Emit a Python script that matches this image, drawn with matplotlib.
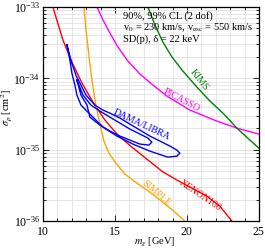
import numpy as np
import matplotlib
matplotlib.use("Agg")
import matplotlib.pyplot as plt
from matplotlib.ticker import LogLocator, MultipleLocator, NullFormatter, LogFormatterMathtext, FixedLocator

plt.rcParams['font.family'] = ['Liberation Serif', 'DejaVu Serif']
plt.rcParams['mathtext.fontset'] = 'stix'

# exclusion limits: mass [GeV], log10(sigma_p / cm^2)
xenon_m = [10.69, 11.39, 12.01, 12.71, 13.47, 14.31, 15.21, 16.18, 17.22, 18.26, 19.31, 20.35,
           21.39, 22.29, 23.125]
xenon_logs = [-33.0, -33.463, -33.771, -34.066, -34.332, -34.585, -34.795, -34.964, -35.132,
              -35.300, -35.426, -35.539, -35.651, -35.791, -36.0]

simple_m = [12.85, 12.99, 13.19, 13.40, 13.68, 13.96, 14.24, 14.58, 15.07, 15.69, 16.53, 17.43,
            18.33, 19.17, 19.86]
simple_logs = [-33.0, -33.323, -33.673, -34.024, -34.374, -34.641, -34.879, -35.048, -35.188,
               -35.342, -35.468, -35.595, -35.735, -35.875, -36.0]

picasso_m = [13.75, 14.17, 14.65, 15.21, 15.90, 16.74, 17.64, 18.61, 20.21, 22.08, 23.47, 25.0]
picasso_logs = [-33.0, -33.182, -33.365, -33.561, -33.757, -33.940, -34.094, -34.248, -34.445,
                -34.599, -34.697, -34.781]

kims_m = [17.29, 17.78, 18.33, 18.96, 19.72, 20.63, 21.60, 22.57, 23.47, 24.375, 25.0]
kims_logs = [-33.0, -33.252, -33.491, -33.701, -33.898, -34.108, -34.318, -34.501, -34.697,
             -34.865, -34.978]

# DAMA/LIBRA allowed regions (closed contours)
dama99_m = [11.67, 11.94, 12.29, 12.64, 12.99, 13.61, 14.17, 14.65, 15.35, 16.04, 16.74, 17.43,
            18.13, 18.82, 19.31, 19.51, 19.31, 18.68, 17.43, 16.25, 15.14, 14.17, 13.26, 12.64,
            12.36, 12.22, 12.01, 11.875, 11.67]
dama99_logs = [-33.533, -33.743, -33.954, -34.094, -34.234, -34.374, -34.445, -34.487, -34.557,
               -34.641, -34.725, -34.809, -34.879, -34.949, -35.006, -35.048, -35.090, -35.104,
               -35.020, -34.921, -34.809, -34.683, -34.501, -34.374, -34.234, -34.094, -33.926,
               -33.743, -33.533]

dama90_m = [12.36, 12.78, 13.33, 13.96, 14.65, 15.35, 16.04, 16.74, 17.29, 17.57, 17.36, 16.74,
            16.04, 15.35, 14.65, 13.96, 13.26, 13.06, 12.64, 12.36]
dama90_logs = [-34.024, -34.234, -34.374, -34.459, -34.543, -34.627, -34.711, -34.781, -34.837,
               -34.893, -34.935, -34.921, -34.865, -34.809, -34.739, -34.655, -34.543, -34.374,
               -34.234, -34.024]

y_decades = [1e-36, 1e-35, 1e-34, 1e-33]

fig = plt.figure(figsize=(2.65, 2.49), dpi=100)
ax = fig.add_axes([0.162, 0.112, 0.815, 0.86])

lw = 1.0
ax.plot(xenon_m, 10.0**np.array(xenon_logs), color='#ff0000', lw=lw)
ax.plot(simple_m, 10.0**np.array(simple_logs), color='#ffa500', lw=lw)
ax.plot(picasso_m, 10.0**np.array(picasso_logs), color='#ff00ff', lw=lw)
ax.plot(kims_m, 10.0**np.array(kims_logs), color='#008000', lw=lw)
ax.plot(dama99_m, 10.0**np.array(dama99_logs), color='#0000ff', lw=lw)
ax.plot(dama90_m, 10.0**np.array(dama90_logs), color='#0000ff', lw=lw)

ax.set_yscale('log')
ax.set_xlim(10, 25)
ax.set_ylim(1e-36, 1e-33)
ax.xaxis.set_major_locator(MultipleLocator(5))
ax.xaxis.set_minor_locator(MultipleLocator(1))
ax.yaxis.set_major_locator(FixedLocator(y_decades))
ax.yaxis.set_minor_locator(LogLocator(base=10, subs=np.arange(2, 10)))
ax.yaxis.set_major_formatter(LogFormatterMathtext())
ax.yaxis.set_minor_formatter(NullFormatter())

ax.grid(which='both', color='#e2e2e2', lw=0.6)
ax.set_axisbelow(True)
ax.tick_params(which='both', direction='in', top=True, right=True, labelsize=8.5, width=0.6, pad=2)
ax.tick_params(axis='x', which='both', pad=3.5)
ax.tick_params(which='major', length=4)
ax.tick_params(which='minor', length=2)
for s in ax.spines.values():
    s.set_linewidth(0.9)

ax.set_xlabel(r'$m_\chi$ [GeV]', fontsize=7.5)
ax.set_ylabel(r'$\sigma_p$ [cm$^2$]', fontsize=7.5)
ax.xaxis.set_label_coords(0.52, -0.068)
ax.yaxis.set_label_coords(-0.135, 0.53)

ax.text(16.84, 10**-34.655, 'DAMA/LIBRA', color='#0000ff', fontsize=7, rotation=-25, ha='center', va='center')
ax.text(19.65, 10**-34.304, 'PICASSO', color='#ff00ff', fontsize=7, rotation=-28, ha='center', va='center')
ax.text(20.83, 10**-34.024, 'KIMS', color='#008000', fontsize=7, rotation=-52, ha='center', va='center')
ax.text(20.9, 10**-35.637, 'XENON100', color='#ff0000', fontsize=7, rotation=-34, ha='center', va='center')
ax.text(17.85, 10**-35.61, 'SIMPLE', color='#ffa500', fontsize=7, rotation=-40, ha='center', va='center')

ax.text(0.37, 0.98, '90%, 99% CL (2 dof)\nv$_0$ = 230 km/s, v$_{\\rm esc}$ = 550 km/s\nSD(p), δ = 22 keV',
        transform=ax.transAxes, fontsize=7.5, va='top', ha='left', linespacing=1.05)

fig.savefig('out.png', dpi=100)
